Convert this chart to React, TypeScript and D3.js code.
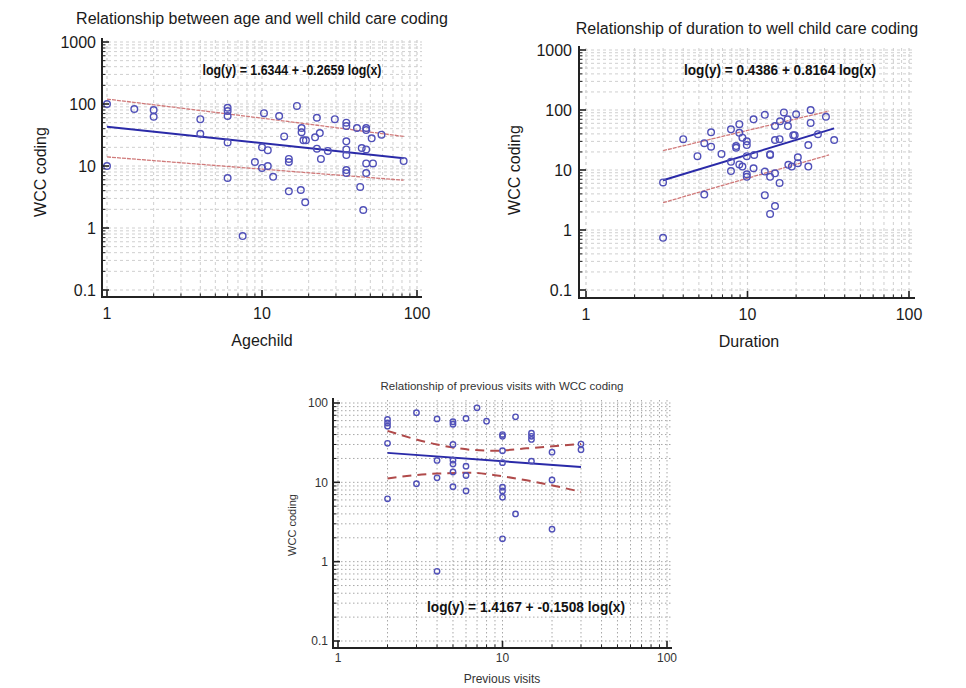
import React from 'react';
import * as d3 from 'd3';

// ---------- DATA ----------
const agePoints: [number, number][] = [
  [1, 100], [1, 10], [1.5, 83], [2, 80], [2, 62], [4, 57], [4, 33], [6, 87], [6, 77], [6, 64], [6, 24], [6, 6.4],
  [7.5, 0.74], [9, 11.6], [10, 20], [10.9, 18], [10, 9.3], [10.9, 10], [11.8, 6.7], [10.3, 71], [12.9, 64],
  [13.9, 30], [14.9, 13], [14.9, 11.6], [16.8, 93], [14.9, 3.9], [17.8, 4.1], [19, 2.6], [18, 41], [18, 35],
  [18.5, 26], [19.2, 26], [22, 29], [23.6, 34], [22.6, 19], [24, 13], [26.6, 17.5], [22.6, 60], [29.5, 57],
  [35, 50], [35, 44], [35, 25], [35, 18.5], [35, 15], [35, 8.6], [35, 7.7], [41, 41], [47, 41], [47, 38],
  [51, 28], [44, 19.5], [47, 18.5], [47, 11], [52, 11], [59, 32], [82, 12], [43, 4.6], [45, 1.95], [47, 7.7],
];
const ageFit = { a: 1.6344, b: -0.2659, x0: 1, x1: 82 };
const ageBandX = [1, 10, 82];
const ageBandUpper = [120, 59, 30];
const ageBandLower = [14, 8.9, 5.9];

const durPoints: [number, number][] = [
  [3, 6.2], [3, 0.74], [4, 32.6], [5.4, 28], [5.95, 42.5], [5.95, 24.5], [4.9, 17], [5.4, 3.9], [6.9, 18.5],
  [7.9, 47.6], [8.9, 58], [8.9, 41.6], [9.3, 34.6], [8.5, 25], [8.5, 23.5], [9.9, 30], [9.9, 26], [7.9, 13.7],
  [7.9, 9.6], [8.9, 12.4], [9.3, 11.4], [9.9, 17], [11, 17.8], [9.9, 8.5], [9.9, 7.7], [10.9, 10.7], [10.9, 70],
  [12.8, 83], [13.8, 17.8], [12.8, 9.4], [13.8, 7.7], [14.8, 8.8], [12.8, 3.8], [14.8, 2.5], [13.8, 1.85],
  [15.8, 6.1], [16.8, 91], [15.9, 65], [17.7, 70], [14.8, 54], [17.8, 54], [20, 85], [24.6, 100], [24.6, 61],
  [30.6, 77], [14.8, 31.6], [15.8, 32.6], [19.2, 38], [19.6, 38], [27.3, 39.5], [34.4, 31.6], [23.8, 26],
  [13.8, 18.3], [20.5, 16.3], [17.9, 12.2], [18.8, 11.4], [20.5, 13], [23.8, 11.4],
];
const durFit = { a: 0.4386, b: 0.8164, x0: 3, x1: 34.4 };
const durBandX = [3, 10, 32];
const durBandUpper = [21, 45.7, 96];
const durBandLower = [2.85, 7.3, 17.8];

const visitPoints: [number, number][] = [
  [2, 62], [2, 56], [2, 51], [2, 31], [2, 6.2], [3, 75.5], [3, 9.6], [4, 63], [4, 18.9], [4, 11.4], [4, 0.755],
  [5, 58], [5, 54], [5, 30], [5, 19], [5, 17], [5, 13.5], [5, 8.8], [6, 64], [6, 16], [6, 12.2], [6, 7.8],
  [7, 87], [8, 59], [10, 40], [10, 38], [10, 25], [10, 17.7], [10, 8.7], [10, 7.8], [10, 6.5], [10, 1.94],
  [12, 67], [12, 4.0], [15, 41.6], [15, 38], [15, 34.7], [15, 18.5], [20, 24], [20, 10.7], [20, 2.57],
  [30, 30.4], [30, 25.8],
];
const visitFit = { a: 1.4167, b: -0.1508, x0: 2, x1: 30 };
const visitBandX = [2, 4, 6.6, 9, 14, 30];
const visitBandUpper = [44.5, 30, 25.6, 25, 26.8, 30.5];
const visitBandLower = [11.2, 12.9, 13.2, 12.3, 10.6, 7.6];

const xTickValues = [1, 10, 100];
const yTickValuesTop = [0.1, 1, 10, 100, 1000];
const yTickValuesBottom = [0.1, 1, 10, 100];

const titles = [
  'Relationship between age and well child care coding',
  'Relationship of duration to well child care coding',
  'Relationship of previous visits with WCC coding',
];
const xTitles = ['Agechild', 'Duration', 'Previous visits'];
const yTitle = 'WCC coding';

// ---------- HELPERS ----------
function logValues(lo: number, hi: number): number[] {
  const out: number[] = [];
  for (let e = Math.floor(Math.log10(lo)); e <= Math.ceil(Math.log10(hi)); e++) {
    for (let m = 1; m <= 9; m++) {
      const v = +(m * Math.pow(10, e)).toPrecision(6);
      if (v >= lo * 0.999 && v <= hi * 1.001) out.push(v);
    }
  }
  return out;
}
const isMajor = (v: number) => Math.abs(Math.log10(v) - Math.round(Math.log10(v))) < 1e-6;
const fmt = (v: number) => (v < 1 ? String(v) : String(Math.round(v)));

type Layout = {
  xRange: [number, number];
  yDomain: [number, number];
  yRange: [number, number];
  axisX: number;
  axisY: number;
  right: number;
  top: number;
  small: boolean;
  title: { x: number; y: number; size: number };
  xTitle: { x: number; y: number };
  yTitle: { x: number; y: number };
  eq: { x: number; y: number; w: number; size: number };
  tickSize: number;
  tickLabelY: number;
  yTickLabelX: number;
  r: number;
};

function Panel(props: {
  points: [number, number][];
  fit: { a: number; b: number; x0: number; x1: number };
  bandX: number[];
  upper: number[];
  lower: number[];
  yTicks: number[];
  title: string;
  xTitle: string;
  L: Layout;
}) {
  const { points, fit, bandX, upper, lower, yTicks, title, xTitle, L } = props;
  const x = d3.scaleLog().domain([1, 100]).range(L.xRange);
  const y = d3.scaleLog().domain(L.yDomain).range(L.yRange);
  const xGrid = logValues(1, 100);
  const yGrid = logValues(L.yDomain[0], L.yDomain[1]);
  const line = d3
    .line<[number, number]>()
    .x((d) => x(d[0]))
    .y((d) => y(d[1]))
    .curve(d3.curveMonotoneX);
  const fitPts: [number, number][] = [fit.x0, fit.x1].map((v) => [v, Math.pow(10, fit.a + fit.b * Math.log10(v))]);
  const up: [number, number][] = bandX.map((v, i) => [v, upper[i]]);
  const lo: [number, number][] = bandX.map((v, i) => [v, lower[i]]);
  const gridColor = L.small ? '#a8a8a8' : '#cfcfcf';
  const gridDash = L.small ? '1.5,2.5' : '3,3';
  const font = 'Liberation Sans, Arial, sans-serif';
  const textColor = L.small ? '#333' : '#1a1a1a';
  const eqText = `log(y) = ${fit.a.toFixed(4)} + ${fit.b.toFixed(4)} log(x)`;
  return (
    <g fontFamily={font}>
      {/* grid */}
      {xGrid.map((v, i) => (
        <line key={'gx' + i} x1={x(v)} x2={x(v)} y1={L.top} y2={L.axisY}
          stroke={gridColor} strokeWidth={isMajor(v) && !L.small ? 1.2 : 1} strokeDasharray={gridDash} />
      ))}
      {yGrid.map((v, i) => (
        <line key={'gy' + i} x1={L.axisX} x2={L.right} y1={y(v)} y2={y(v)}
          stroke={gridColor} strokeWidth={1} strokeDasharray={gridDash} />
      ))}
      {/* bands */}
      <path d={line(up) || ''} fill="none" stroke={L.small ? '#b04a4a' : '#d07a7a'}
        strokeWidth={L.small ? 2 : 1.3} strokeDasharray={L.small ? '9,6' : '4,1'} />
      <path d={line(lo) || ''} fill="none" stroke={L.small ? '#b04a4a' : '#d07a7a'}
        strokeWidth={L.small ? 2 : 1.3} strokeDasharray={L.small ? '9,6' : '4,1'} />
      {/* fit */}
      <path d={line(fitPts) || ''} fill="none" stroke="#2a2aa8" strokeWidth={2} />
      {/* points */}
      {points.map((p, i) => (
        <circle key={'p' + i} cx={x(p[0])} cy={y(p[1])} r={L.r} fill="none" stroke="#5050b8" strokeWidth={1.4} />
      ))}
      {/* axes */}
      <line x1={L.axisX} x2={L.axisX} y1={L.top - 2} y2={L.axisY + 1} stroke="#222" strokeWidth={2} />
      <line x1={L.axisX - 1} x2={L.right} y1={L.axisY} y2={L.axisY} stroke="#222" strokeWidth={2} />
      {yGrid.map((v, i) => (
        <line key={'ty' + i} x1={L.axisX} x2={L.axisX + (isMajor(v) ? 7 : 3.5)} y1={y(v)} y2={y(v)}
          stroke="#222" strokeWidth={isMajor(v) ? 1.6 : 1} />
      ))}
      {xGrid.map((v, i) => (
        <line key={'tx' + i} x1={x(v)} x2={x(v)} y1={L.axisY} y2={L.axisY - (isMajor(v) ? 7 : 3.5)}
          stroke="#222" strokeWidth={isMajor(v) ? 1.6 : 1} />
      ))}
      {/* tick labels */}
      {yTicks.map((v, i) => (
        <text key={'ly' + i} x={L.yTickLabelX} y={y(v)} dy="0.35em" textAnchor="end"
          fontSize={L.tickSize} fill={textColor}>{fmt(v)}</text>
      ))}
      {xTickValues.map((v, i) => (
        <text key={'lx' + i} x={x(v)} y={L.tickLabelY} textAnchor="middle"
          fontSize={L.tickSize} fill={textColor}>{fmt(v)}</text>
      ))}
      {/* titles */}
      <text x={L.title.x} y={L.title.y} textAnchor="middle" fontSize={L.title.size} fill={textColor}>{title}</text>
      <text x={L.xTitle.x} y={L.xTitle.y} textAnchor="middle" fontSize={L.tickSize} fill={textColor}>{xTitle}</text>
      <text transform={`translate(${L.yTitle.x},${L.yTitle.y}) rotate(-90)`} textAnchor="middle" dy="0.35em"
        fontSize={L.small ? L.tickSize - 1 : L.tickSize} fill={textColor}>{yTitle}</text>
      <text x={L.eq.x} y={L.eq.y} textAnchor="middle" fontSize={L.eq.size} fontWeight="bold" fill="#111"
        textLength={L.eq.w} lengthAdjust="spacingAndGlyphs">{eqText}</text>
    </g>
  );
}

const layoutAge: Layout = {
  xRange: [107, 417], yDomain: [0.1, 1000], yRange: [290, 42], axisX: 102, axisY: 297, right: 422, top: 40,
  small: false, title: { x: 262, y: 24, size: 16 }, xTitle: { x: 262, y: 346 }, yTitle: { x: 40, y: 172 },
  eq: { x: 292, y: 75, w: 179, size: 14 }, tickSize: 16, tickLabelY: 319, yTickLabelX: 96, r: 3.3,
};
const layoutDur: Layout = {
  xRange: [586, 909], yDomain: [0.1, 1000], yRange: [290, 50], axisX: 579, axisY: 298, right: 915, top: 48,
  small: false, title: { x: 747, y: 34, size: 16 }, xTitle: { x: 749, y: 347 }, yTitle: { x: 514, y: 170 },
  eq: { x: 780, y: 75, w: 192, size: 14 }, tickSize: 16, tickLabelY: 320, yTickLabelX: 572, r: 3.3,
};
const layoutVisit: Layout = {
  xRange: [338, 667], yDomain: [0.1, 100], yRange: [641, 403], axisX: 333, axisY: 648, right: 672, top: 400,
  small: true, title: { x: 502, y: 390, size: 11.5 }, xTitle: { x: 502, y: 683 }, yTitle: { x: 292, y: 525 },
  eq: { x: 526, y: 612, w: 198, size: 15 }, tickSize: 12, tickLabelY: 662, yTickLabelX: 328, r: 2.7,
};

export default function App() {
  return (
    <svg width={966} height={688} style={{ position: 'absolute', left: 0, top: 0, background: '#fff' }}>
      <rect x={0} y={0} width={966} height={688} fill="#fff" />
      <Panel points={agePoints} fit={ageFit} bandX={ageBandX} upper={ageBandUpper} lower={ageBandLower}
        yTicks={yTickValuesTop} title={titles[0]} xTitle={xTitles[0]} L={layoutAge} />
      <Panel points={durPoints} fit={durFit} bandX={durBandX} upper={durBandUpper} lower={durBandLower}
        yTicks={yTickValuesTop} title={titles[1]} xTitle={xTitles[1]} L={layoutDur} />
      <Panel points={visitPoints} fit={visitFit} bandX={visitBandX} upper={visitBandUpper} lower={visitBandLower}
        yTicks={yTickValuesBottom} title={titles[2]} xTitle={xTitles[2]} L={layoutVisit} />
    </svg>
  );
}
